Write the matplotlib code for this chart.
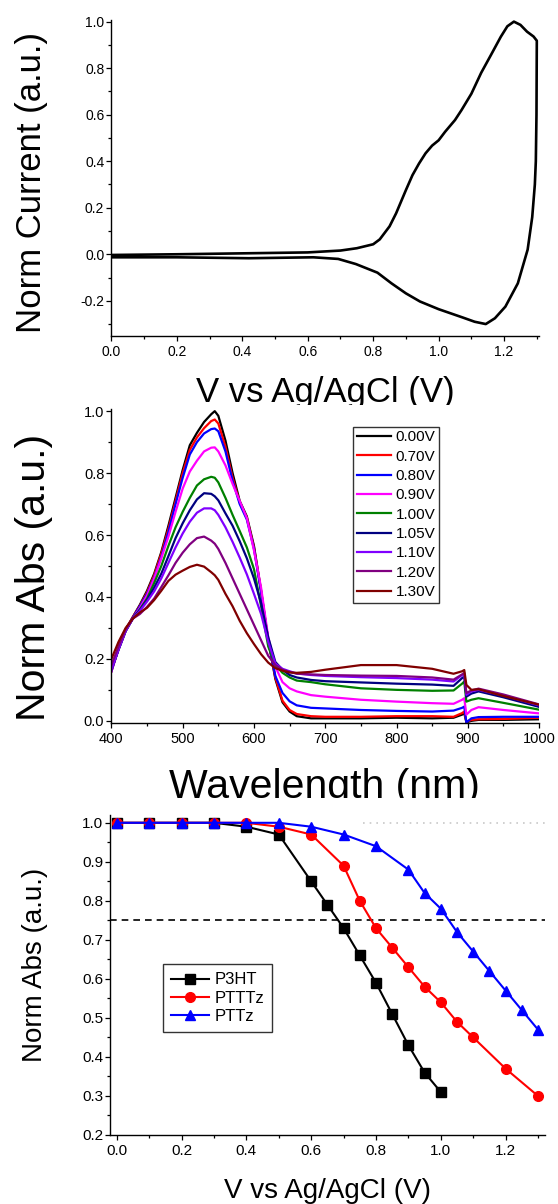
import matplotlib
matplotlib.use("Agg")
import matplotlib.pyplot as plt
from matplotlib.ticker import MultipleLocator, FormatStrFormatter
from matplotlib.patches import Rectangle

plt.rcParams["font.family"] = ["Liberation Sans", "DejaVu Sans"]
plt.rcParams["axes.unicode_minus"] = False

# ---- panel 1: cyclic voltammogram (forward then reverse sweep) ----
v_fwd = [0.0, 0.2, 0.4, 0.6, 0.7, 0.75, 0.8, 0.82, 0.85, 0.87, 0.9, 0.92, 0.94,
         0.96, 0.98, 1.0, 1.02, 1.05, 1.07, 1.1, 1.13, 1.16, 1.19, 1.21, 1.23,
         1.25, 1.27, 1.29, 1.3]
i_fwd = [-0.003, 0.0, 0.004, 0.008, 0.016, 0.026, 0.043, 0.064, 0.12, 0.176,
         0.276, 0.34, 0.39, 0.434, 0.467, 0.49, 0.527, 0.577, 0.62, 0.69, 0.78,
         0.857, 0.935, 0.98, 1.0, 0.986, 0.957, 0.936, 0.918]
v_rev = [1.3, 1.299, 1.297, 1.294, 1.286, 1.272, 1.242, 1.204, 1.172, 1.144,
         1.11, 1.074, 1.0, 0.943, 0.9, 0.856, 0.813, 0.747, 0.693, 0.617, 0.42,
         0.2, 0.0]
i_rev = [0.918, 0.6, 0.4, 0.3, 0.16, 0.02, -0.125, -0.225, -0.275, -0.3,
         -0.29, -0.272, -0.236, -0.203, -0.168, -0.125, -0.079, -0.042, -0.02,
         -0.013, -0.017, -0.013, -0.013]

# ---- panel 2: spectroelectrochemistry ----
wl = [400, 410, 420, 430, 440, 450, 460, 470, 480, 490, 500, 510, 520, 530,
      540, 545, 550, 560, 570, 580, 590, 600, 610, 620, 630, 640, 650, 660,
      680, 700, 750, 800, 850, 880, 892, 895, 898, 905, 915, 950, 1000]
potentials = ["0.00V", "0.70V", "0.80V", "0.90V", "1.00V", "1.05V", "1.10V",
              "1.20V", "1.30V"]
spec_colors = ["#000000", "#ff0000", "#0000ff", "#ff00ff", "#008000",
               "#000080", "#8000ff", "#800080", "#800000"]
abs_000 = [0.16, 0.235, 0.295, 0.335, 0.375, 0.42, 0.475, 0.545, 0.63, 0.72,
           0.81, 0.89, 0.93, 0.965, 0.99, 1.0, 0.985, 0.905, 0.80, 0.71, 0.66,
           0.565, 0.42, 0.26, 0.135, 0.06, 0.03, 0.015, 0.008, 0.008, 0.008,
           0.01, 0.008, 0.01, 0.02, 0.025, -0.005, 0.0, 0.003, 0.003, 0.005]
abs_070 = [0.16, 0.235, 0.295, 0.335, 0.372, 0.415, 0.47, 0.54, 0.62, 0.71,
           0.80, 0.875, 0.915, 0.945, 0.968, 0.973, 0.96, 0.885, 0.785, 0.705,
           0.655, 0.56, 0.42, 0.26, 0.14, 0.065, 0.035, 0.022, 0.015, 0.013,
           0.013, 0.015, 0.015, 0.013, 0.025, 0.03, -0.003, 0.003, 0.005,
           0.006, 0.01]
abs_080 = [0.16, 0.233, 0.293, 0.333, 0.37, 0.41, 0.463, 0.53, 0.61, 0.70,
           0.785, 0.86, 0.9, 0.928, 0.942, 0.944, 0.935, 0.87, 0.775, 0.70,
           0.65, 0.555, 0.415, 0.26, 0.145, 0.09, 0.063, 0.05, 0.042, 0.04,
           0.035, 0.032, 0.03, 0.033, 0.042, 0.046, -0.005, 0.008, 0.012,
           0.013, 0.013]
abs_090 = [0.16, 0.23, 0.29, 0.33, 0.365, 0.405, 0.46, 0.525, 0.595, 0.675,
           0.75, 0.805, 0.84, 0.87, 0.882, 0.883, 0.87, 0.825, 0.765, 0.71,
           0.655, 0.55, 0.43, 0.27, 0.175, 0.125, 0.105, 0.095, 0.083, 0.078,
           0.068, 0.062, 0.057, 0.055, 0.068, 0.073, 0.02, 0.035, 0.044,
           0.035, 0.024]
abs_100 = [0.165, 0.23, 0.29, 0.33, 0.36, 0.395, 0.445, 0.5, 0.565, 0.625,
           0.675, 0.72, 0.76, 0.78, 0.788, 0.785, 0.77, 0.72, 0.665, 0.613,
           0.56, 0.49, 0.37, 0.24, 0.18, 0.155, 0.14, 0.13, 0.125, 0.118,
           0.105, 0.1, 0.097, 0.098, 0.12, 0.127, 0.062, 0.068, 0.073, 0.058,
           0.036]
abs_105 = [0.165, 0.23, 0.29, 0.33, 0.358, 0.39, 0.43, 0.475, 0.532, 0.59,
           0.638, 0.68, 0.715, 0.735, 0.733, 0.725, 0.712, 0.67, 0.63, 0.58,
           0.525, 0.46, 0.38, 0.27, 0.19, 0.165, 0.148, 0.14, 0.132, 0.128,
           0.124, 0.12, 0.117, 0.113, 0.138, 0.143, 0.078, 0.088, 0.095,
           0.076, 0.045]
abs_110 = [0.165, 0.23, 0.29, 0.33, 0.355, 0.385, 0.418, 0.46, 0.51, 0.56,
           0.605, 0.643, 0.672, 0.686, 0.686, 0.68, 0.665, 0.625, 0.578,
           0.527, 0.473, 0.41, 0.345, 0.255, 0.185, 0.168, 0.16, 0.153, 0.148,
           0.145, 0.141, 0.138, 0.133, 0.127, 0.148, 0.152, 0.084, 0.095, 0.1,
           0.082, 0.05]
abs_120 = [0.18, 0.24, 0.295, 0.33, 0.345, 0.368, 0.395, 0.432, 0.47, 0.51,
           0.543, 0.57, 0.59, 0.595, 0.582, 0.572, 0.555, 0.51, 0.46, 0.41,
           0.36, 0.31, 0.26, 0.21, 0.18, 0.165, 0.158, 0.152, 0.15, 0.148,
           0.146, 0.145, 0.14, 0.133, 0.15, 0.155, 0.09, 0.098, 0.104, 0.085,
           0.053]
abs_130 = [0.2, 0.255, 0.3, 0.33, 0.35, 0.365, 0.39, 0.42, 0.452, 0.472,
           0.485, 0.497, 0.504, 0.498, 0.48, 0.47, 0.455, 0.41, 0.37, 0.323,
           0.283, 0.248, 0.215, 0.188, 0.17, 0.162, 0.156, 0.155, 0.158, 0.165,
           0.18, 0.18, 0.168, 0.152, 0.16, 0.164, 0.116, 0.1, 0.102, 0.08,
           0.052]
spectra = [abs_000, abs_070, abs_080, abs_090, abs_100, abs_105, abs_110,
           abs_120, abs_130]

# ---- panel 3: normalised absorbance vs potential ----
v_p3ht = [0.0, 0.1, 0.2, 0.3, 0.4, 0.5, 0.6, 0.65, 0.7, 0.75, 0.8, 0.85, 0.9,
          0.95, 1.0]
a_p3ht = [1.0, 1.0, 1.0, 1.0, 0.99, 0.97, 0.85, 0.79, 0.73, 0.66, 0.59, 0.51,
          0.43, 0.36, 0.31]
v_ptttz = [0.0, 0.1, 0.2, 0.3, 0.4, 0.5, 0.6, 0.7, 0.75, 0.8, 0.85, 0.9,
           0.95, 1.0, 1.05, 1.1, 1.2, 1.3]
a_ptttz = [1.0, 1.0, 1.0, 1.0, 1.0, 0.99, 0.97, 0.89, 0.80, 0.73, 0.68, 0.63,
           0.58, 0.54, 0.49, 0.45, 0.37, 0.30]
v_pttz = [0.0, 0.1, 0.2, 0.3, 0.4, 0.5, 0.6, 0.7, 0.8, 0.9, 0.95, 1.0, 1.05,
          1.1, 1.15, 1.2, 1.25, 1.3]
a_pttz = [1.0, 1.0, 1.0, 1.0, 1.0, 1.0, 0.99, 0.97, 0.94, 0.88, 0.82, 0.78,
          0.72, 0.67, 0.62, 0.57, 0.52, 0.47]
threshold = 0.75

W, H = 558, 1204
fig = plt.figure(figsize=(W / 100, H / 100), dpi=100)


def px_axes(left, right, top, bottom, z):
    return fig.add_axes([left / W, 1 - bottom / H, (right - left) / W,
                         (bottom - top) / H], zorder=z)


def style(ax, fs, ypad=1.5):
    for s in ("top", "right"):
        ax.spines[s].set_visible(False)
    for s in ("left", "bottom"):
        ax.spines[s].set_linewidth(1.0)
    ax.tick_params(which="major", direction="out", length=3.6, width=0.9,
                   labelsize=fs)
    ax.tick_params(which="minor", direction="out", length=2.0, width=0.9)
    ax.tick_params(axis="y", pad=ypad)
    ax.tick_params(axis="x", pad=3)


# top panel
ax1 = px_axes(111.4, 539.1, 20, 335.7, 0)
ax1.plot(v_fwd + v_rev, i_fwd + i_rev, color="black", lw=1.9)
ax1.set_xlim(0, 1.307)
ax1.set_ylim(-0.35, 1.007)
ax1.xaxis.set_major_locator(MultipleLocator(0.2))
ax1.xaxis.set_minor_locator(MultipleLocator(0.1))
ax1.yaxis.set_major_locator(MultipleLocator(0.2))
ax1.yaxis.set_minor_locator(MultipleLocator(0.1))
ax1.xaxis.set_major_formatter(FormatStrFormatter("%.1f"))
ax1.yaxis.set_major_formatter(FormatStrFormatter("%.1f"))
style(ax1, 10)
ax1.set_ylabel("Norm Current (a.u.)", fontsize=25, va="center")
ax1.yaxis.set_label_coords(-0.186, 0.484)
ax1.set_xlabel("V vs Ag/AgCl (V)", fontsize=25, va="baseline")
ax1.xaxis.set_label_coords(0.499, -0.21)

# white strip that clips the bottom of the top x label
fig.add_artist(Rectangle((0, 1 - 410 / H), 1, 5 / H, transform=fig.transFigure,
                         facecolor="white", edgecolor="none", zorder=0.5))

# middle panel
ax2 = px_axes(111.4, 539.1, 409.3, 723.3, 1)
for vals, lab, col in zip(spectra, potentials, spec_colors):
    ax2.plot(wl, vals, color=col, lw=1.6, label=lab)
ax2.set_xlim(400, 1000)
ax2.set_ylim(-0.008, 1.006)
ax2.xaxis.set_major_locator(MultipleLocator(100))
ax2.xaxis.set_minor_locator(MultipleLocator(50))
ax2.yaxis.set_major_locator(MultipleLocator(0.2))
ax2.yaxis.set_minor_locator(MultipleLocator(0.1))
ax2.yaxis.set_major_formatter(FormatStrFormatter("%.1f"))
style(ax2, 10.5)
ax2.set_ylabel("Norm Abs (a.u.)", fontsize=29.5, va="center")
ax2.yaxis.set_label_coords(-0.182, 0.463)
ax2.set_xlabel("Wavelength (nm)", fontsize=29.5, va="baseline")
ax2.xaxis.set_label_coords(0.499, -0.238)
leg2 = ax2.legend(loc="upper left", bbox_to_anchor=(0.565, 0.945), fontsize=11,
                  frameon=True, fancybox=False, framealpha=1, borderpad=0.25,
                  labelspacing=0.35, handlelength=2.25, handletextpad=0.3,
                  borderaxespad=0)
leg2.get_frame().set_edgecolor("#333333")
leg2.get_frame().set_linewidth(1.0)

fig.add_artist(Rectangle((0, 1 - 812 / H), 1, 14 / H, transform=fig.transFigure,
                         facecolor="white", edgecolor="none", zorder=1.5))

# bottom panel
ax3 = px_axes(110.3, 544.5, 815, 1135, 2)
ax3.axhline(1.0, xmin=0.582, xmax=1, color="#c8c8c8", lw=1.2,
            ls=(0, (1, 3)), zorder=1)
ax3.axhline(threshold, color="black", lw=1.2, ls=(0, (4, 3)), zorder=1)
ax3.plot(v_p3ht, a_p3ht, color="black", marker="s", ms=6.5, lw=1.5,
         label="P3HT", zorder=3)
ax3.plot(v_ptttz, a_ptttz, color="red", marker="o", ms=7, lw=1.5,
         label="PTTTz", zorder=4)
ax3.plot(v_pttz, a_pttz, color="blue", marker="^", ms=7.5, lw=1.5,
         label="PTTz", zorder=5)
ax3.set_xlim(-0.02, 1.32)
ax3.set_ylim(0.2, 1.02)
ax3.xaxis.set_major_locator(MultipleLocator(0.2))
ax3.xaxis.set_minor_locator(MultipleLocator(0.1))
ax3.yaxis.set_major_locator(MultipleLocator(0.1))
ax3.yaxis.set_minor_locator(MultipleLocator(0.05))
ax3.xaxis.set_major_formatter(FormatStrFormatter("%.1f"))
ax3.yaxis.set_major_formatter(FormatStrFormatter("%.1f"))
style(ax3, 11)
ax3.set_ylabel("Norm Abs (a.u.)", fontsize=20, va="center")
ax3.yaxis.set_label_coords(-0.173, 0.531)
ax3.set_xlabel("V vs Ag/AgCl (V)", fontsize=20, va="baseline")
ax3.xaxis.set_label_coords(0.5, -0.197)
leg3 = ax3.legend(loc="upper left", bbox_to_anchor=(0.1205, 0.534), fontsize=12,
                  frameon=True, fancybox=False, framealpha=1, borderpad=0.5,
                  labelspacing=0.2, handlelength=2.3, handletextpad=0.3,
                  borderaxespad=0)
leg3.get_frame().set_edgecolor("#333333")
leg3.get_frame().set_linewidth(1.0)

fig.savefig("out.png", dpi=100)
